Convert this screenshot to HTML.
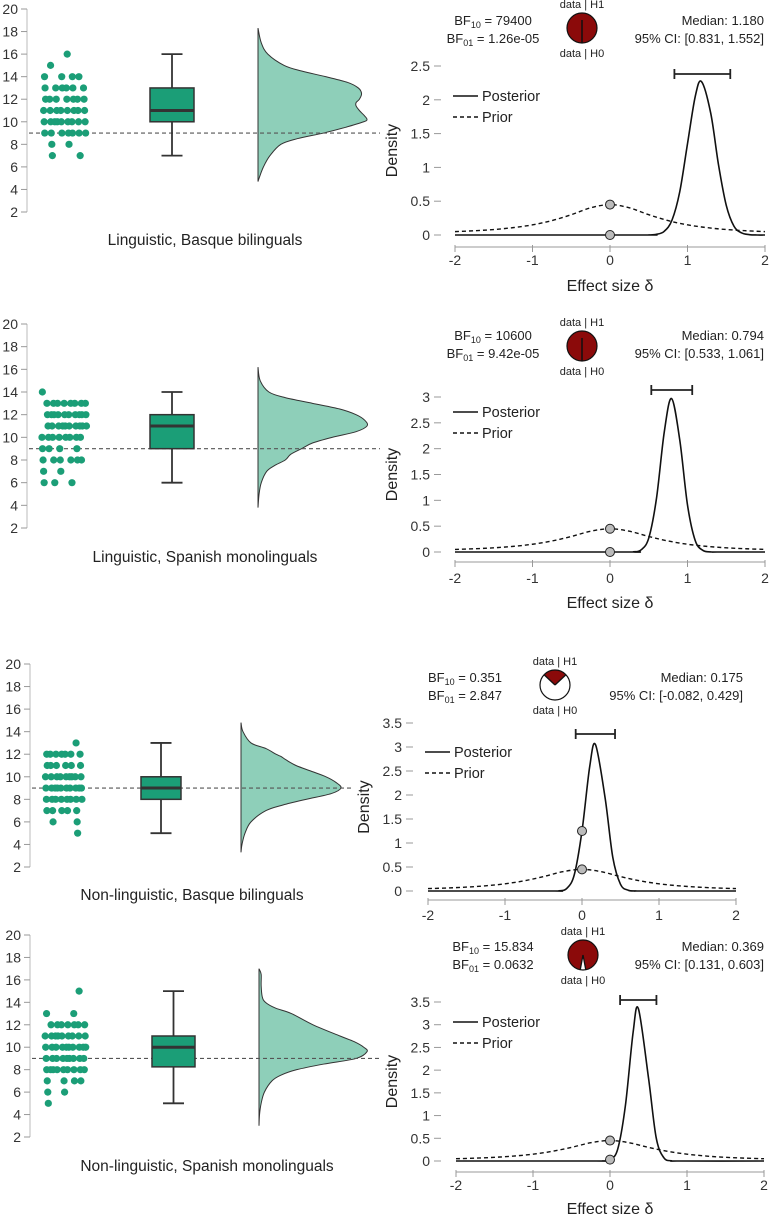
<!DOCTYPE html>
<html><head><meta charset="utf-8">
<style>
body{margin:0;background:#fff;}
svg{display:block;font-family:"Liberation Sans",Arial,sans-serif;}
</style></head>
<body>
<svg id="fig" xmlns="http://www.w3.org/2000/svg" width="773" height="1216" viewBox="0 0 773 1216"></svg>
<script>
// ---------- DATA: raincloud panels ----------
const rainTitles = ["Linguistic, Basque bilinguals","Linguistic, Spanish monolinguals","Non-linguistic, Basque bilinguals","Non-linguistic, Spanish monolinguals"];
const p1Scores = [16,15,14,14,14,14,13,13,13,13,13,13,12,12,12,12,12,12,12,11,11,11,11,11,11,11,11,10,10,10,10,10,10,10,10,10,9,9,9,9,9,9,9,8,8,7,7];
const p2Scores = [14,13,13,13,13,13,13,13,13,12,12,12,12,12,12,12,12,12,12,11,11,11,11,11,11,11,11,11,11,10,10,10,10,10,10,10,10,9,9,9,9,8,8,8,8,8,8,7,7,6,6,6];
const p3Scores = [13,12,12,12,12,12,12,12,11,11,11,11,11,11,10,10,10,10,10,10,10,10,10,9,9,9,9,9,9,9,9,9,9,8,8,8,8,8,8,8,8,7,7,7,7,7,6,6,5];
const p4Scores = [15,13,13,12,12,12,12,12,12,12,11,11,11,11,11,11,11,11,11,10,10,10,10,10,10,10,10,10,10,9,9,9,9,9,9,9,9,9,8,8,8,8,8,8,8,8,8,7,7,7,7,6,6,5];
// box: [lowerWhisker, Q1, median, Q3, upperWhisker]
const p1Box = [7,10,11,13,16];
const p2Box = [6,9,11,12,14];
const p3Box = [5,8,9,10,13];
const p4Box = [5,8.25,10,11,15];
// half-violin density (relative)
const p1ViolinY = [18.3,17,16,15,14.5,14,13.5,13,12.5,12,11.7,11.4,11,10.5,10.2,10,9.5,9,8.5,8,7,6,5,4.7];
const p1ViolinD = [0,0.03,0.09,0.24,0.4,0.62,0.82,0.92,0.95,0.93,0.9,0.9,0.93,0.98,1.0,0.97,0.8,0.6,0.36,0.21,0.11,0.05,0.01,0];
const p2ViolinY = [16.2,15,14,13.5,13,12.5,12,11.5,11,10.5,10,9.5,9,8.5,8,7.5,7,6,5,3.8];
const p2ViolinD = [0,0.02,0.1,0.25,0.5,0.75,0.9,0.98,1.0,0.9,0.68,0.5,0.4,0.3,0.25,0.15,0.08,0.03,0.01,0];
const p3ViolinY = [14.8,14,13,12.5,12,11.8,11.5,11,10.5,10,9.5,9,8.5,8,7.5,7,6,5,4,3.3];
const p3ViolinD = [0,0.02,0.1,0.25,0.35,0.4,0.45,0.55,0.7,0.85,0.95,1.0,0.9,0.65,0.42,0.25,0.1,0.04,0.01,0];
const p4ViolinY = [17,16.5,15.5,14.5,14,13.5,13,12,11,10.5,10,9.6,9,8.5,8,7.5,7,6,5,4,3];
const p4ViolinD = [0,0.02,0.02,0.03,0.06,0.15,0.3,0.5,0.75,0.88,0.97,1.0,0.9,0.6,0.35,0.2,0.12,0.05,0.02,0.005,0];
const refLine = 9;
const leftTicks = [2,4,6,8,10,12,14,16,18,20];

// ---------- DATA: Bayesian panels ----------
const priorX = [-2,-1.75,-1.5,-1.25,-1,-0.75,-0.5,-0.25,0,0.25,0.5,0.75,1,1.25,1.5,1.75,2];
const priorY = [0.05,0.063,0.081,0.109,0.15,0.213,0.3,0.402,0.45,0.402,0.3,0.213,0.15,0.109,0.081,0.063,0.05];
const q1PostX = [-2,0.4,0.5,0.6,0.7,0.8,0.9,1.0,1.1,1.18,1.3,1.4,1.5,1.6,1.7,1.8,1.9,2];
const q1PostY = [0,0,0.001,0.01,0.055,0.22,0.64,1.35,2.05,2.27,1.8,1.04,0.44,0.13,0.03,0.005,0,0];
const q2PostX = [-2,0.2,0.3,0.4,0.5,0.6,0.7,0.794,0.9,1.0,1.1,1.2,1.3,1.4,2];
const q2PostY = [0,0,0.003,0.04,0.27,1.04,2.32,2.97,2.17,0.91,0.22,0.03,0.002,0,0];
const q3PostX = [-2,-0.4,-0.3,-0.2,-0.1,0,0.1,0.175,0.3,0.4,0.5,0.6,0.7,0.8,2];
const q3PostY = [0,0,0.004,0.05,0.34,1.25,2.59,3.05,1.94,0.7,0.14,0.016,0.001,0,0];
const q4PostX = [-2,-0.2,-0.1,0,0.1,0.2,0.3,0.369,0.5,0.6,0.7,0.8,0.9,2];
const q4PostY = [0,0,0.001,0.03,0.26,1.22,2.83,3.35,1.83,0.51,0.07,0.005,0,0];
const medians = [1.180,0.794,0.175,0.369];
const ciLow = [0.831,0.533,-0.082,0.131];
const ciHigh = [1.552,1.061,0.429,0.603];
const bf10 = [79400,10600,0.351,15.834];
const bf10Text = ["79400","10600","0.351","15.834"];
const bf01Text = ["1.26e-05","9.42e-05","2.847","0.0632"];
const ciText = ["[0.831, 1.552]","[0.533, 1.061]","[-0.082, 0.429]","[0.131, 0.603]"];
const medText = ["1.180","0.794","0.175","0.369"];
const postAt0 = [0,0,1.25,0.03];
const priorAt0 = [0.45,0.45,0.45,0.45];
const xTicks = [-2,-1,0,1,2];
const yTicksQ1 = [0,0.5,1,1.5,2,2.5];
const yTicksQ2 = [0,0.5,1,1.5,2,2.5,3];
const yTicksQ3 = [0,0.5,1,1.5,2,2.5,3,3.5];
const yTicksQ4 = [0,0.5,1,1.5,2,2.5,3,3.5];

// ---------- rendering ----------
const NS = "http://www.w3.org/2000/svg";
const svg = document.getElementById("fig");
function mk(tag, attrs, parent){
  const e = document.createElementNS(NS, tag);
  for (const k in attrs) e.setAttribute(k, attrs[k]);
  (parent||svg).appendChild(e);
  return e;
}
function smooth(pts){
  let d = "M" + pts[0][0].toFixed(2) + "," + pts[0][1].toFixed(2);
  for (let i=0;i<pts.length-1;i++){
    const p0 = pts[i-1]||pts[i], p1 = pts[i], p2 = pts[i+1], p3 = pts[i+2]||pts[i+1];
    const c1x = p1[0]+(p2[0]-p0[0])/6, c1y = p1[1]+(p2[1]-p0[1])/6;
    const c2x = p2[0]-(p3[0]-p1[0])/6, c2y = p2[1]-(p3[1]-p1[1])/6;
    d += " C"+c1x.toFixed(2)+","+c1y.toFixed(2)+" "+c2x.toFixed(2)+","+c2y.toFixed(2)+" "+p2[0].toFixed(2)+","+p2[1].toFixed(2);
  }
  return d;
}
function fmtTick(v){ return String(v); }

const leftGeo = [
  {axisX:27, y20:9, y2:212, dotL:43, dotW:45, boxL:150, boxR:194, vx:258, vw:109, lineEnd:380, titleX:205, titleY:245},
  {axisX:27, y20:324, y2:528, dotL:42, dotW:45, boxL:150, boxR:194, vx:258, vw:109, lineEnd:380, titleX:205, titleY:562},
  {axisX:30, y20:664, y2:867, dotL:43, dotW:39, boxL:141, boxR:181, vx:241, vw:100, lineEnd:352, titleX:192, titleY:900},
  {axisX:30, y20:935, y2:1137, dotL:44, dotW:44, boxL:152, boxR:195, vx:259, vw:108, lineEnd:380, titleX:207, titleY:1171}
];
const scoresAll = [p1Scores,p2Scores,p3Scores,p4Scores];
const boxAll = [p1Box,p2Box,p3Box,p4Box];
const violYAll = [p1ViolinY,p2ViolinY,p3ViolinY,p4ViolinY];
const violDAll = [p1ViolinD,p2ViolinD,p3ViolinD,p4ViolinD];

leftGeo.forEach((g, pi) => {
  const grp = mk("g", {});
  
  
  const ys = v => g.y2 - (v-2)*(g.y2-g.y20)/18;
  const ax = mk("line", {x1:g.axisX, x2:g.axisX, y1:ys(20), y2:ys(2), stroke:"#bbb", "stroke-width":1}, grp);
  
  
  leftTicks.forEach(t => {
    mk("line", {x1:g.axisX-6, x2:g.axisX, y1:ys(t), y2:ys(t), stroke:"#999", "stroke-width":1}, grp);
    const tl = mk("text", {x:g.axisX-9, y:ys(t)+5, "text-anchor":"end", "font-size":14, fill:"#333"}, grp);
    tl.textContent = fmtTick(t);
    
    
  });
  const vy = violYAll[pi], vd = violDAll[pi];
  const pts = vy.map((v,i) => [g.vx + vd[i]*g.vw, ys(v)]);
  let d = smooth(pts) + " L" + g.vx + "," + ys(vy[vy.length-1]) + " L" + g.vx + "," + ys(vy[0]) + " Z";
  const vio = mk("path", {d:d, fill:"#8ecfb9", stroke:"#333", "stroke-width":1}, grp);
  
  
  const rl = mk("line", {x1:g.axisX+2, x2:g.lineEnd, y1:ys(refLine), y2:ys(refLine), stroke:"#555", "stroke-width":1.2, "stroke-dasharray":"4,3"}, grp);
  
  
  const b = boxAll[pi], cx = (g.boxL+g.boxR)/2;
  mk("line", {x1:cx, x2:cx, y1:ys(b[0]), y2:ys(b[1]), stroke:"#333", "stroke-width":1.8}, grp);
  mk("line", {x1:cx, x2:cx, y1:ys(b[3]), y2:ys(b[4]), stroke:"#333", "stroke-width":1.8}, grp);
  mk("line", {x1:cx-10.5, x2:cx+10.5, y1:ys(b[0]), y2:ys(b[0]), stroke:"#333", "stroke-width":1.8}, grp);
  mk("line", {x1:cx-10.5, x2:cx+10.5, y1:ys(b[4]), y2:ys(b[4]), stroke:"#333", "stroke-width":1.8}, grp);
  const bx = mk("rect", {x:g.boxL, y:ys(b[3]), width:g.boxR-g.boxL, height:ys(b[1])-ys(b[3]), fill:"#1b9e77", stroke:"#333", "stroke-width":1.5}, grp);
  
  
  const md = mk("line", {x1:g.boxL, x2:g.boxR, y1:ys(b[2]), y2:ys(b[2]), stroke:"#333", "stroke-width":3}, grp);
  
  
  const counts = {};
  scoresAll[pi].forEach((v, i) => {
    counts[v] = (counts[v]||0) + 1;
    const j = counts[v];
    const frac = ((j*0.618 + v*0.37 + pi*0.21) % 1);
    const dot = mk("circle", {cx:g.dotL + frac*g.dotW, cy:ys(v), r:3.6, fill:"#1b9e77"}, grp);
    
    
  });
  const tt = mk("text", {x:g.titleX, y:g.titleY, "text-anchor":"middle", "font-size":15.5, fill:"#222"}, grp);
  tt.textContent = rainTitles[pi];
  
  
});

const rightGeo = [
  {xL:455, xR:765, y0:235, yTop:66, yTopV:2.5, axY:247, tickLblY:265, titleY:291, showTitle:true, yLblX:430, densX:397, bfX:493, bfY:25, pieX:582, pieY:28, medX:764, legY:96, legX:453, ciY:74},
  {xL:455, xR:765, y0:552, yTop:397, yTopV:3, axY:562, tickLblY:583, titleY:608, showTitle:true, yLblX:430, densX:397, bfX:493, bfY:340, pieX:582, pieY:346, medX:764, legY:412, legX:453, ciY:390},
  {xL:428, xR:736, y0:891, yTop:723, yTopV:3.5, axY:900, tickLblY:920, titleY:0, showTitle:false, yLblX:402, densX:369, bfX:465, bfY:682, pieX:555, pieY:685, medX:743, legY:752, legX:425, ciY:734},
  {xL:456, xR:764, y0:1161, yTop:1002, yTopV:3.5, axY:1172, tickLblY:1190, titleY:1214, showTitle:true, yLblX:430, densX:397, bfX:493, bfY:951, pieX:583, pieY:955, medX:764, legY:1022, legX:453, ciY:1000}
];
const postXAll = [q1PostX,q2PostX,q3PostX,q4PostX];
const postYAll = [q1PostY,q2PostY,q3PostY,q4PostY];
const yTicksAll = [yTicksQ1,yTicksQ2,yTicksQ3,yTicksQ4];

rightGeo.forEach((g, pi) => {
  const grp = mk("g", {});
  
  
  const xs = v => g.xL + (v+2)*(g.xR-g.xL)/4;
  const ys = v => g.y0 - v*(g.y0-g.yTop)/g.yTopV;
  yTicksAll[pi].forEach(t => {
    mk("line", {x1:g.yLblX+4, x2:g.yLblX+11, y1:ys(t), y2:ys(t), stroke:"#999", "stroke-width":1}, grp);
    const tl = mk("text", {x:g.yLblX, y:ys(t)+5, "text-anchor":"end", "font-size":14, fill:"#333"}, grp);
    tl.textContent = fmtTick(t);
    
    
  });
  const dl = mk("text", {x:g.densX, y:(g.y0+g.yTop)/2, "text-anchor":"middle", "font-size":16, fill:"#222", transform:"rotate(-90 "+g.densX+" "+((g.y0+g.yTop)/2)+")"}, grp);
  dl.textContent = "Density";
  
  
  const xa = mk("line", {x1:xs(-2), x2:xs(2), y1:g.axY, y2:g.axY, stroke:"#999", "stroke-width":1}, grp);
  
  
  xTicks.forEach(t => {
    mk("line", {x1:xs(t), x2:xs(t), y1:g.axY-2, y2:g.axY+5, stroke:"#999", "stroke-width":1}, grp);
    const tl = mk("text", {x:xs(t), y:g.tickLblY, "text-anchor":"middle", "font-size":14, fill:"#333"}, grp);
    tl.textContent = fmtTick(t);
    
    
  });
  if (g.showTitle){
    const xt = mk("text", {x:xs(0), y:g.titleY, "text-anchor":"middle", "font-size":16, fill:"#222"}, grp);
    xt.textContent = "Effect size δ";
    
    
  }
  const pr = mk("path", {d:smooth(priorX.map((x,i)=>[xs(x), ys(priorY[i])])), fill:"none", stroke:"#111", "stroke-width":1.4, "stroke-dasharray":"4,3"}, grp);
  
  
  const px = postXAll[pi], py = postYAll[pi];
  const po = mk("path", {d:smooth(px.map((x,i)=>[xs(x), ys(py[i])])), fill:"none", stroke:"#111", "stroke-width":1.6}, grp);
  
  
  const d1 = mk("circle", {cx:xs(0), cy:ys(priorAt0[pi]), r:4.5, fill:"#bbb", stroke:"#222", "stroke-width":1}, grp);
  
  
  const d2 = mk("circle", {cx:xs(0), cy:ys(postAt0[pi]), r:4.5, fill:"#bbb", stroke:"#222", "stroke-width":1}, grp);
  
  
  const ci = mk("g", {}, grp);
  
  
  mk("line", {x1:xs(ciLow[pi]), x2:xs(ciHigh[pi]), y1:g.ciY, y2:g.ciY, stroke:"#222", "stroke-width":1.8}, ci);
  mk("line", {x1:xs(ciLow[pi]), x2:xs(ciLow[pi]), y1:g.ciY-5, y2:g.ciY+5, stroke:"#222", "stroke-width":1.8}, ci);
  mk("line", {x1:xs(ciHigh[pi]), x2:xs(ciHigh[pi]), y1:g.ciY-5, y2:g.ciY+5, stroke:"#222", "stroke-width":1.8}, ci);
  const lg = mk("g", {}, grp);
  
  
  mk("line", {x1:g.legX, x2:g.legX+25, y1:g.legY, y2:g.legY, stroke:"#111", "stroke-width":1.6}, lg);
  const lt1 = mk("text", {x:g.legX+29, y:g.legY+5, "font-size":14.5, fill:"#222"}, lg);
  lt1.textContent = "Posterior";
  
  
  mk("line", {x1:g.legX, x2:g.legX+25, y1:g.legY+21, y2:g.legY+21, stroke:"#111", "stroke-width":1.4, "stroke-dasharray":"4,3"}, lg);
  const lt2 = mk("text", {x:g.legX+29, y:g.legY+26, "font-size":14.5, fill:"#222"}, lg);
  lt2.textContent = "Prior";
  
  
  const b1 = mk("text", {x:g.bfX, y:g.bfY, "text-anchor":"middle", "font-size":13, fill:"#222"}, grp);
  b1.innerHTML = 'BF<tspan dy="3" font-size="9">10</tspan><tspan dy="-3"> = ' + bf10Text[pi] + '</tspan>';
  
  
  const b2 = mk("text", {x:g.bfX, y:g.bfY+18, "text-anchor":"middle", "font-size":13, fill:"#222"}, grp);
  b2.innerHTML = 'BF<tspan dy="3" font-size="9">01</tspan><tspan dy="-3"> = ' + bf01Text[pi] + '</tspan>';
  
  
  const m1 = mk("text", {x:g.medX, y:g.bfY, "text-anchor":"end", "font-size":13, fill:"#222"}, grp);
  m1.textContent = "Median: " + medText[pi];
  
  
  const m2 = mk("text", {x:g.medX, y:g.bfY+18, "text-anchor":"end", "font-size":13, fill:"#222"}, grp);
  m2.textContent = "95% CI: " + ciText[pi];
  
  
  const pie = mk("g", {}, grp);
  
  
  const r = 15, cx = g.pieX, cy = g.pieY;
  const p = bf10[pi]/(1+bf10[pi]);
  mk("circle", {cx:cx, cy:cy, r:r, fill:"#fff"}, pie);
  const a = p*Math.PI;
  const xA = cx - r*Math.sin(a), yA = cy - r*Math.cos(a);
  const xB = cx + r*Math.sin(a), yB = cy - r*Math.cos(a);
  if (p > 0.9999){
    mk("circle", {cx:cx, cy:cy, r:r, fill:"#8b0a0a"}, pie);
  } else {
    mk("path", {d:"M"+cx+","+cy+" L"+xA+","+yA+" A"+r+","+r+" 0 "+(p>0.5?1:0)+",1 "+xB+","+yB+" Z", fill:"#8b0a0a"}, pie);
  }
  mk("line", {x1:cx, y1:cy-(p>0.999?8:0), x2:xA, y2:yA, stroke:"#111", "stroke-width":1.3}, pie);
  mk("line", {x1:cx, y1:cy-(p>0.999?8:0), x2:xB, y2:yB, stroke:"#111", "stroke-width":1.3}, pie);
  mk("circle", {cx:cx, cy:cy, r:r, fill:"none", stroke:"#111", "stroke-width":1.2}, pie);
  const h1 = mk("text", {x:cx, y:cy-20, "text-anchor":"middle", "font-size":11, fill:"#222"}, grp);
  h1.textContent = "data | H1";
  
  
  const h0 = mk("text", {x:cx, y:cy+29, "text-anchor":"middle", "font-size":11, fill:"#222"}, grp);
  h0.textContent = "data | H0";
  
  
});
</script>
</body></html>
